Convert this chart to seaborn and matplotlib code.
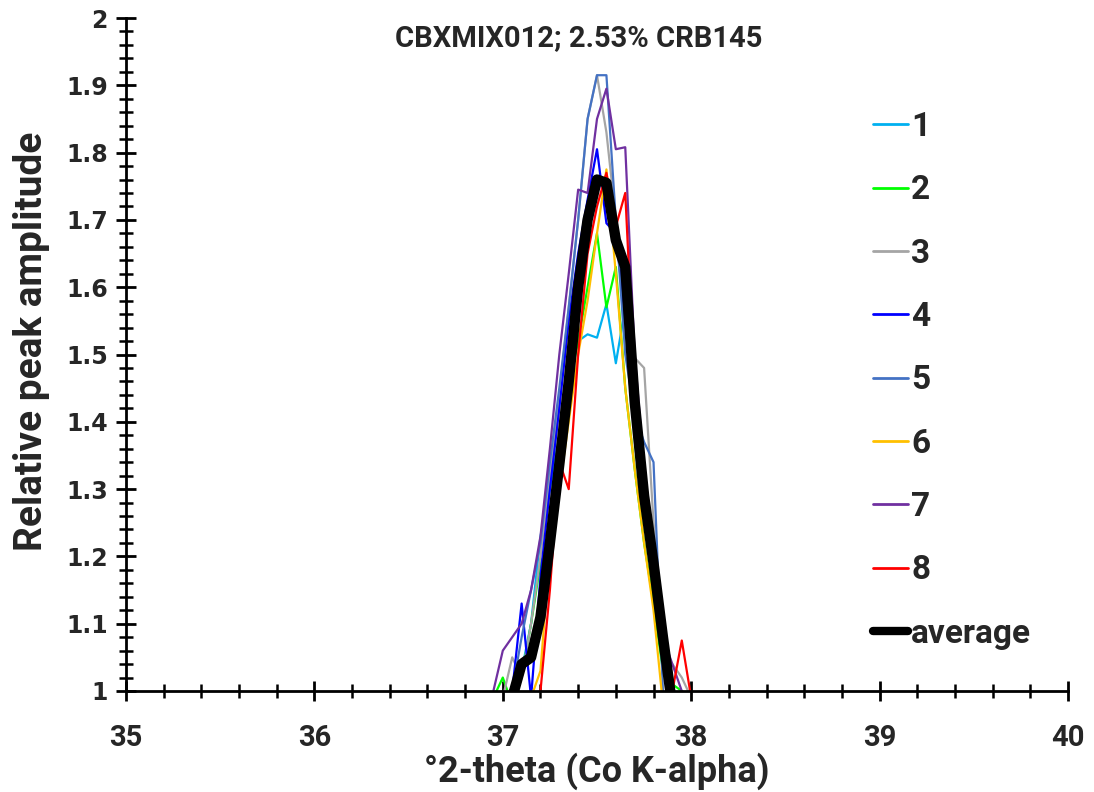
import numpy as np
import pandas as pd
import matplotlib
matplotlib.use("Agg")
import matplotlib.pyplot as plt
import seaborn as sns
from matplotlib.ticker import MultipleLocator, FuncFormatter

# ---- data ----
two_theta = [36.95, 37.00, 37.05, 37.10, 37.15, 37.20, 37.25, 37.30, 37.35, 37.40, 37.45,
             37.50, 37.55, 37.60, 37.65, 37.70, 37.75, 37.80, 37.85, 37.90, 37.95, 38.00]

s1 = [0.98, 0.98, 0.99, 1.03, 1.10, 1.23, 1.30, 1.38, 1.47, 1.52, 1.53,
      1.525, 1.575, 1.487, 1.57, 1.40, 1.28, 1.17, 1.04, 0.98, 0.97, 0.97]
s2 = [0.99, 1.02, 0.98, 1.02, 1.10, 1.19, 1.22, 1.35, 1.45, 1.52, 1.60,
      1.68, 1.57, 1.63, 1.45, 1.33, 1.22, 1.13, 1.03, 1.01, 1.00, 0.99]
s3 = [0.99, 0.99, 1.05, 1.02, 1.10, 1.20, 1.32, 1.44, 1.57, 1.70, 1.85,
      1.915, 1.83, 1.70, 1.58, 1.495, 1.48, 1.25, 1.06, 1.04, 1.02, 0.99]
s4 = [0.98, 0.98, 1.00, 1.13, 0.99, 1.17, 1.30, 1.42, 1.55, 1.65, 1.73,
      1.805, 1.695, 1.68, 1.55, 1.40, 1.27, 1.16, 1.04, 0.98, 0.97, 0.97]
s5 = [0.98, 0.98, 1.00, 1.08, 1.15, 1.22, 1.34, 1.45, 1.57, 1.70, 1.85,
      1.915, 1.915, 1.70, 1.50, 1.41, 1.37, 1.34, 1.00, 0.98, 0.97, 0.97]
s6 = [0.98, 0.98, 0.98, 0.98, 0.99, 1.03, 1.21, 1.30, 1.40, 1.50, 1.58,
      1.68, 1.775, 1.62, 1.45, 1.33, 1.22, 1.12, 0.98, 0.97, 0.97, 0.97]
s7 = [1.00, 1.06, 1.08, 1.10, 1.15, 1.23, 1.36, 1.50, 1.62, 1.745, 1.74,
      1.85, 1.895, 1.805, 1.808, 1.50, 1.33, 1.18, 1.08, 1.04, 1.00, 0.99]
s8 = [0.98, 0.98, 0.98, 0.98, 0.99, 1.00, 1.15, 1.34, 1.30, 1.50, 1.65,
      1.72, 1.77, 1.69, 1.74, 1.45, 1.33, 1.22, 1.10, 1.00, 1.075, 0.99]
average = [0.97, 0.98, 0.99, 1.04, 1.05, 1.11, 1.22, 1.337, 1.46, 1.60, 1.70,
           1.76, 1.755, 1.67, 1.63, 1.43, 1.29, 1.19, 1.08, 0.977, 0.96, 0.96]

series_names = ["1", "2", "3", "4", "5", "6", "7", "8"]
series_values = [s1, s2, s3, s4, s5, s6, s7, s8]
series_colors = ["#00B0F0", "#00FF00", "#A5A5A5", "#0000FF",
                 "#4472C4", "#FFC000", "#7030A0", "#FF0000"]

title = "CBXMIX012; 2.53% CRB145"
x_label = "°2-theta (Co K-alpha)"
y_label = "Relative peak amplitude"

# ---- build long table ----
rows = []
for name, vals in zip(series_names, series_values):
    for x, y in zip(two_theta, vals):
        rows.append({"two_theta": x, "amp": y, "run": name})
df = pd.DataFrame(rows)
df_avg = pd.DataFrame({"two_theta": two_theta, "amp": average, "run": "average"})

sns.set_style("white")
plt.rcParams["font.family"] = ["Roboto", "DejaVu Sans"]
plt.rcParams["font.weight"] = "bold"
plt.rcParams["axes.labelweight"] = "bold"
plt.rcParams["axes.titleweight"] = "bold"

fig = plt.figure(figsize=(10.94, 7.92), dpi=100)
ax = fig.add_axes([126 / 1094, 101 / 792, (1068 - 126) / 1094, (691 - 18) / 792])

sns.lineplot(data=df, x="two_theta", y="amp", hue="run", hue_order=series_names,
             palette=dict(zip(series_names, series_colors)), linewidth=1.6,
             estimator=None, sort=False, ax=ax)
sns.lineplot(data=df_avg, x="two_theta", y="amp", color="black", linewidth=7.5,
             estimator=None, sort=False, ax=ax, label="average")

ax.set_xlim(35, 40)
ax.set_ylim(1, 2)
ax.xaxis.set_major_locator(MultipleLocator(1))
ax.xaxis.set_minor_locator(MultipleLocator(0.2))
ax.yaxis.set_major_locator(MultipleLocator(0.1))
ax.yaxis.set_minor_locator(MultipleLocator(0.02))
ax.yaxis.set_major_formatter(FuncFormatter(lambda v, p: f"{v:g}"))

for side in ["top", "right"]:
    ax.spines[side].set_visible(False)
for side in ["left", "bottom"]:
    ax.spines[side].set_linewidth(2)
    ax.spines[side].set_color("black")

ax.tick_params(which="both", bottom=True, left=True, top=False, right=False)
ax.tick_params(which="major", direction="inout", length=14, width=2, color="black")
ax.tick_params(which="minor", direction="inout", length=10, width=1.8, color="black")
ax.tick_params(axis="x", which="major", labelsize=21, pad=17)
ax.tick_params(axis="y", which="major", labelsize=17, pad=6, labelfontfamily="DejaVu Sans")

ax.set_xlabel(x_label, fontsize=26, fontweight="bold", labelpad=0)
ax.set_ylabel(y_label, fontsize=28, fontweight="bold")
ax.yaxis.set_label_coords(-0.081, 0.519)
ax.text(0.481, 0.970, title, transform=ax.transAxes, ha="center", va="center",
        fontsize=21, fontweight="bold")

leg = ax.legend(loc="upper left", bbox_to_anchor=(0.793, 0.862), frameon=False,
                prop={"size": 24, "weight": "bold"}, handlelength=1.05, handletextpad=0.1,
                labelspacing=0.94, borderaxespad=0, borderpad=0)
for line in leg.get_lines()[:-1]:
    line.set_linewidth(2)
leg.get_lines()[-1].set_linewidth(6)

fig.savefig("out.png", dpi=100)
